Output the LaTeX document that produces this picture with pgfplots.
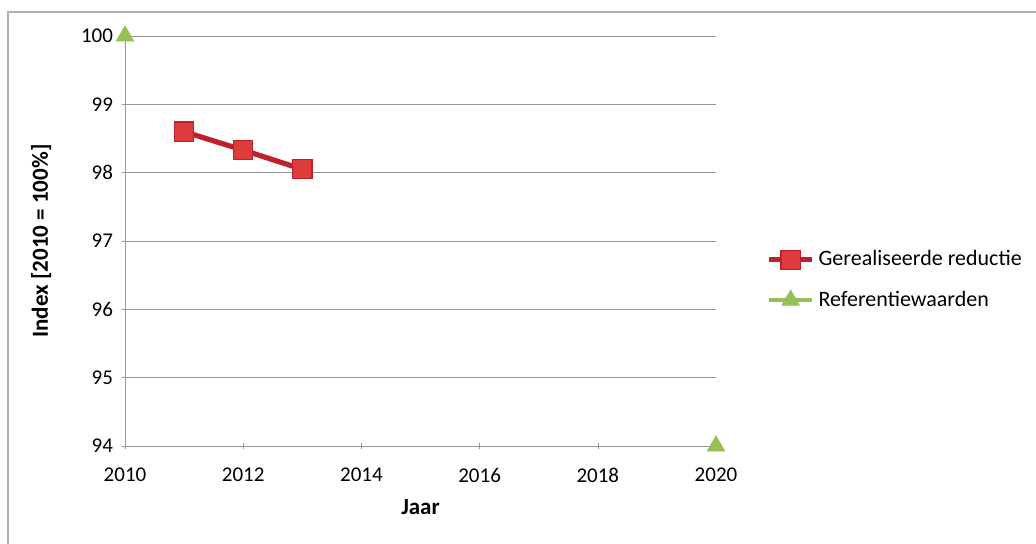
\documentclass[border=0pt]{standalone}
\usepackage{pgfplots}
\pgfplotsset{compat=1.18}
\usepackage{fontspec}
\setmainfont{Carlito}

\definecolor{redline}{RGB}{192,32,44}
\definecolor{redfill}{RGB}{222,60,58}
\definecolor{refgreen}{RGB}{150,192,86}
\definecolor{gridgray}{RGB}{150,150,150}

\begin{document}
\begin{tikzpicture}
  % outer chart frame and page size
  \path[use as bounding box] (-62.5pt,-48.5pt) rectangle (455.5pt,223pt);
  \draw[gray!60, line width=0.6pt] (-58.5pt,-60pt) -- (-58.5pt,217pt) -- (470pt,217pt);
  \begin{axis}[
    at={(0,0)}, anchor=south west,
    scale only axis,
    width=295.5pt, height=205pt,
    xmin=2010, xmax=2020, ymin=94, ymax=100,
    xtick={2010,2012,...,2020},
    ytick={94,...,100},
    /pgf/number format/.cd, 1000 sep={}, assume math mode=true,
    /pgfplots/.cd,
    axis x line*=bottom, axis y line*=left,
    axis line style={gridgray, -},
    tick style={gridgray},
    major tick length=3pt,
    tick align=center,
    ymajorgrids, grid style={gridgray, line width=0.5pt},
    ticklabel style={font=\fontsize{10.5}{12}\selectfont},
    xticklabel style={yshift=-6pt},
    yticklabel style={xshift=-1pt},
    xlabel={\textbf{Jaar}},
    ylabel={\textbf{Index [2010 = 100\%]}},
    label style={font=\fontsize{11.5}{13}\selectfont},
    xlabel style={yshift=-1.5pt},
    ylabel style={yshift=8pt},
    clip=false,
    unbounded coords=jump,
    legend style={at={(1.075,0.405)}, anchor=west, draw=none, fill=none,
      font=\fontsize{11}{13}\selectfont, row sep=7pt,
      /tikz/every even column/.append style={column sep=1pt}},
    legend cell align=left,
    legend image code/.code={%
      \draw[#1] (0cm,0cm) -- (0.75cm,0cm);
      \draw[#1, mark repeat=2, mark phase=2] plot coordinates {(0cm,0cm) (0.375cm,0cm) (0.75cm,0cm)};},
  ]
    \addplot[redline, line width=2.6pt, mark=square*, mark size=4.8pt,
      mark options={fill=redfill, draw=redline, line width=0.6pt}]
      coordinates {(2011,98.6) (2012,98.33) (2013,98.05)};
    \addlegendentry{Gerealiseerde reductie}
    \addplot[refgreen, line width=2pt, mark=triangle*, mark size=5pt,
      mark options={fill=refgreen, draw=refgreen, line width=0.4pt}]
      coordinates {(2010,100) (2015,nan) (2020,94)};
    \addlegendentry{Referentiewaarden}
  \end{axis}
\end{tikzpicture}
\end{document}
